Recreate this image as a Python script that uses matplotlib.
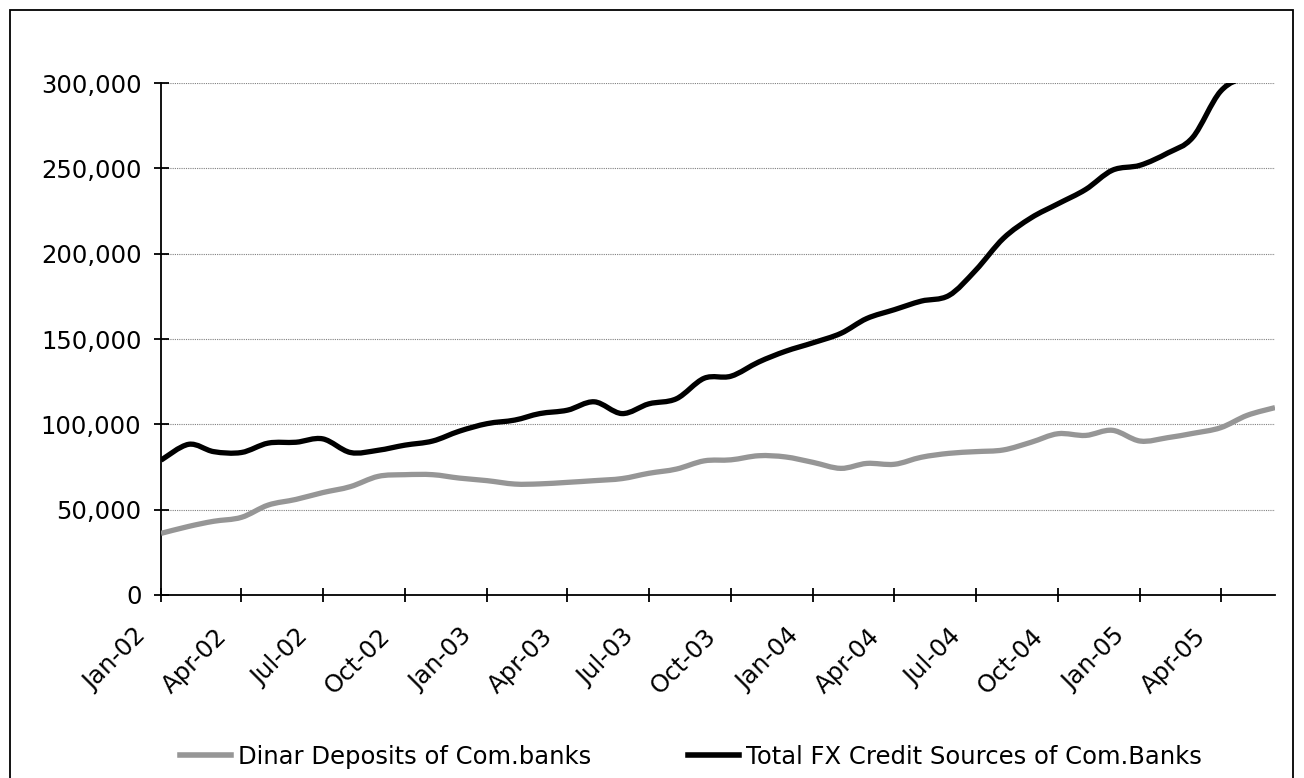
import matplotlib
matplotlib.use("Agg")
import matplotlib.pyplot as plt
import matplotlib.dates as mdates
import matplotlib.ticker as mticker
import matplotlib.transforms as mtransforms
import numpy as np
import pandas as pd
from matplotlib.patches import Rectangle, PathPatch
from matplotlib.path import Path
from matplotlib.lines import Line2D

plt.rcParams['font.family'] = ['DejaVu Sans']

months = pd.date_range("2002-01-01", "2005-06-01", freq="MS")

dinar_deposits = [
    36.1, 40.2, 43.2, 45.5, 52.7, 56.0, 60.0, 63.5, 69.5, 70.5, 70.5, 68.5,
    67.0, 65.0, 65.1, 66.0, 67.0, 68.2, 71.3, 73.8, 78.6, 79.2, 81.6, 80.9,
    77.7, 74.2, 77.1, 76.6, 80.7, 83.0, 84.0, 85.0, 89.5, 94.5, 93.5, 96.5,
    90.2, 92.2, 94.7, 98.0, 105.3, 109.8,
]
total_fx = [
    79.0, 88.3, 84.0, 83.5, 89.0, 89.5, 91.5, 83.5, 84.8, 87.8, 90.2, 96.0,
    100.4, 102.5, 106.3, 108.3, 113.2, 106.3, 112.0, 115.0, 127.0, 128.2, 136.5, 142.8,
    147.8, 153.3, 162.0, 167.2, 172.2, 175.5, 190.3, 209.0, 221.0, 229.2, 237.6, 248.9,
    251.8, 259.0, 268.2, 295.1, 304.0, 308.0,
]
dinar_deposits = [v * 1000 for v in dinar_deposits]
total_fx = [v * 1000 for v in total_fx]

series_labels = ["Dinar Deposits of Com.banks", "Total FX Credit Sources of Com.Banks"]
tick_labels = ["Jan-02", "Apr-02", "Jul-02", "Oct-02", "Jan-03", "Apr-03", "Jul-03",
               "Oct-03", "Jan-04", "Apr-04", "Jul-04", "Oct-04", "Jan-05", "Apr-05"]
tick_dates = pd.date_range("2002-01-01", "2005-04-01", freq="3MS")

FS = 17.5
W, H = 1304, 778
fig = plt.figure(figsize=(W / 100, H / 100), dpi=100)
ax = fig.add_axes([161 / W, 1 - 595 / H, (1275 - 161) / W, (595 - 83) / H])

xnum = mdates.date2num(months.to_pydatetime())


def smooth_path(xs, ys):
    """Excel-style smoothed line: cubic Bezier segments through the data points."""
    xs = np.asarray(xs, float)
    ys = np.asarray(ys, float)
    n = len(xs)
    verts = [(xs[0], ys[0])]
    codes = [Path.MOVETO]
    for i in range(n - 1):
        i0 = max(i - 1, 0)
        i3 = min(i + 2, n - 1)
        c1 = (xs[i] + (xs[i + 1] - xs[i0]) / 6, ys[i] + (ys[i + 1] - ys[i0]) / 6)
        c2 = (xs[i + 1] - (xs[i3] - xs[i]) / 6, ys[i + 1] - (ys[i3] - ys[i]) / 6)
        verts += [c1, c2, (xs[i + 1], ys[i + 1])]
        codes += [Path.CURVE4] * 3
    return Path(verts, codes)


colors = ["#969696", "black"]
for vals, col, z in [(dinar_deposits, colors[0], 3), (total_fx, colors[1], 4)]:
    patch = PathPatch(smooth_path(xnum, vals), facecolor="none", edgecolor=col,
                      lw=3.8, joinstyle="round", capstyle="butt", zorder=z)
    ax.add_patch(patch)

ax.set_xlim(xnum[0], xnum[-1])
ax.set_ylim(0, 300000)
ax.set_yticks(range(0, 300001, 50000))
ax.yaxis.set_major_formatter(mticker.FuncFormatter(lambda v, p: f"{int(v):,}"))
ax.set_xticks(mdates.date2num(tick_dates.to_pydatetime()))
ax.set_xticklabels(tick_labels, rotation=45, ha="right", va="top", rotation_mode="anchor")

for y in range(50000, 300001, 50000):
    ax.axhline(y, color="#808080", lw=0.8, ls=(0, (1, 1)), zorder=1)

for s in ["top", "right"]:
    ax.spines[s].set_visible(False)
for s in ["left", "bottom"]:
    ax.spines[s].set_linewidth(1.3)
    ax.spines[s].set_color("black")

ax.tick_params(axis="y", direction="inout", length=10.8, width=1.3, labelsize=FS, pad=8.7)
ax.tick_params(axis="x", direction="inout", length=10, width=1.3, labelsize=FS, pad=15.9)

shift = mtransforms.ScaledTranslation(-0.27, 0, fig.dpi_scale_trans)
for lab in ax.get_xticklabels():
    lab.set_transform(lab.get_transform() + shift)

handles = [Line2D([], [], color=colors[0], lw=4), Line2D([], [], color=colors[1], lw=4)]
for h, lab, x0 in [(handles[0], series_labels[0], 180), (handles[1], series_labels[1], 688)]:
    fig.legend([h], [lab], loc="center left", bbox_to_anchor=(x0 / W, 1 - 757 / H),
               frameon=False, fontsize=FS, handlelength=2.1, handletextpad=0.29,
               borderpad=0, borderaxespad=0)

fig.patches.append(Rectangle((10 / W, -10 / H), (1293 - 10) / W, (768 + 10) / H,
                             transform=fig.transFigure, fill=False,
                             edgecolor="black", lw=1.3))

fig.savefig("out.png", dpi=100)
